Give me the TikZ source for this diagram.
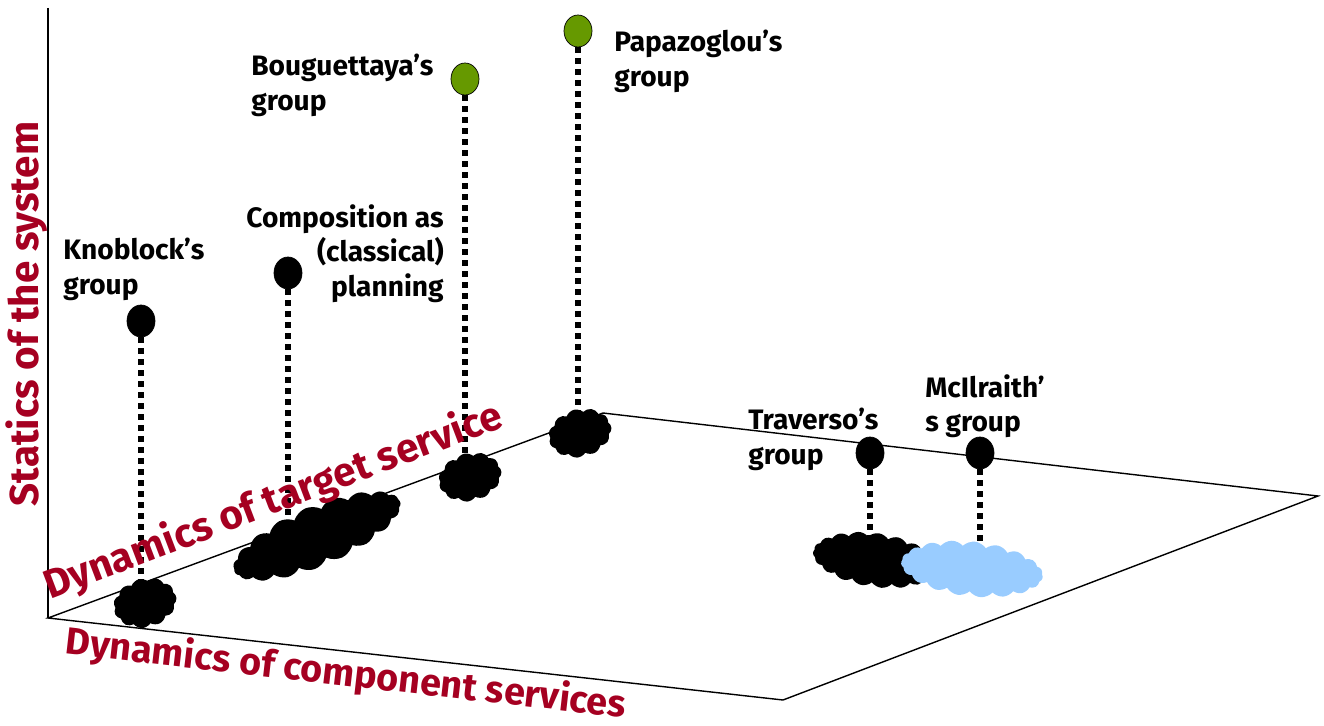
\documentclass[tikz,border=0pt]{standalone}
\usepackage{fontspec}
\setmainfont{Fira Sans}
\usetikzlibrary{shapes.geometric,shapes.symbols,backgrounds}

\definecolor{axisred}{RGB}{165,0,33}
\definecolor{leafgreen}{RGB}{102,153,0}
\definecolor{skyblue}{RGB}{153,204,255}

\begin{document}
\begin{tikzpicture}[
		x=0.02cm, y=-0.02cm,
		% Marker for each research group
		groupdot/.style={ellipse, draw=black, fill=black, inner sep=0pt, minimum width=0.56cm, minimum height=0.64cm},
		% Shadow of a marker on the ground plane
		footprint/.style={cloud, cloud puffs=11, cloud puff arc=110, cloud ignores aspect, fill=black, inner sep=0pt},
		longprint/.style={footprint, cloud puffs=19, cloud puff arc=100},
		% Vertical drop from marker to plane
		dropline/.style={line width=0.12cm, dash pattern=on 0.12cm off 0.1cm},
		% Typography
		grouplabel/.style={font=\fontsize{16}{19.8}\selectfont\bfseries, inner sep=0pt},
		axislabel/.style={text=axisred, font=\fontsize{23}{26}\selectfont\bfseries, inner sep=0pt}
		]
		
		\useasboundingbox (0,0) rectangle (1324,726);
		
		% =========================================================================
		% AXES AND GROUND PLANE
		% =========================================================================
		\coordinate (origin) at (48,618);
		\coordinate (top) at (48,8);
		\coordinate (back) at (603,413);
		\coordinate (far) at (1318,496);
		\coordinate (front) at (783,700);
		
		\draw[thick] (top) -- (origin);
		\draw[thick] (origin) -- (back) -- (far) -- (front) -- cycle;
		
		% =========================================================================
		% FOOTPRINTS ON THE PLANE
		% =========================================================================
		\node[footprint, minimum width=1.28cm, minimum height=0.98cm, rotate=15] (knoblockfoot) at (145,603) {};
		\node[longprint, minimum width=3.6cm, minimum height=1.2cm, rotate=23] (planningfoot) at (317,536) {};
		\node[footprint, minimum width=1.28cm, minimum height=0.96cm, rotate=15] (bouguettayafoot) at (470,477) {};
		\node[footprint, minimum width=1.28cm, minimum height=0.96cm, rotate=15] (papazogloufoot) at (580,433) {};
		\node[longprint, minimum width=2.5cm, minimum height=1.08cm, rotate=-8] (traversofoot) at (875,560) {};
		\node[longprint, fill=skyblue, minimum width=2.85cm, minimum height=1.1cm, rotate=-6] (mcilraithfoot) at (972,569) {};
		
		% =========================================================================
		% GROUP MARKERS
		% =========================================================================
		\node[groupdot] (knoblock) at (141,321) {};
		\node[groupdot] (planning) at (288,273) {};
		\node[groupdot, fill=leafgreen] (bouguettaya) at (465,79) {};
		\node[groupdot, fill=leafgreen] (papazoglou) at (578,31) {};
		\node[groupdot] (traverso) at (870,453) {};
		\node[groupdot] (mcilraith) at (980,453) {};
		
		\begin{scope}[on background layer]
			\draw[dropline] (knoblock) -- (knoblock |- knoblockfoot.center);
			\draw[dropline] (planning) -- (planning |- planningfoot.center);
			\draw[dropline] (bouguettaya) -- (bouguettaya |- bouguettayafoot.center);
			\draw[dropline] (papazoglou) -- (papazoglou |- papazogloufoot.center);
			\draw[dropline] (traverso) -- (traverso |- traversofoot.center);
			\draw[dropline] (mcilraith) -- (mcilraith |- mcilraithfoot.center);
		\end{scope}
		
		% =========================================================================
		% GROUP LABELS
		% =========================================================================
		\node[grouplabel, align=left, anchor=north west] (knoblocktext) at (63,238) {Knoblock’s\\group};
		\node[grouplabel, align=right, anchor=north east] (planningtext) at (444,204) {Composition as\\(classical)\\planning};
		\node[grouplabel, align=left, anchor=north west] (bouguettayatext) at (251,54) {Bouguettaya’s\\group};
		\node[grouplabel, align=left, anchor=north west] (papazogloutext) at (614,30) {Papazoglou’s\\group};
		\node[grouplabel, align=left, anchor=north west] (traversotext) at (748,408) {Traverso’s\\group};
		\node[grouplabel, align=left, anchor=north west] (mcilraithtext) at (925,374) {McIlraith’\\s group};
		
		% =========================================================================
		% AXIS TITLES
		% =========================================================================
		\node[axislabel, rotate=90] (staticstext) at (27,314) {Statics of the system};
		\node[axislabel, rotate=20.8, anchor=south west] (targettext) at (53,608) {Dynamics of target service};
		\node[axislabel, font=\fontsize{21.5}{26}\selectfont\bfseries, rotate=-6.5, anchor=north west] (componenttext) at (68,623) {Dynamics of component services};
		
	\end{tikzpicture}
\end{document}
